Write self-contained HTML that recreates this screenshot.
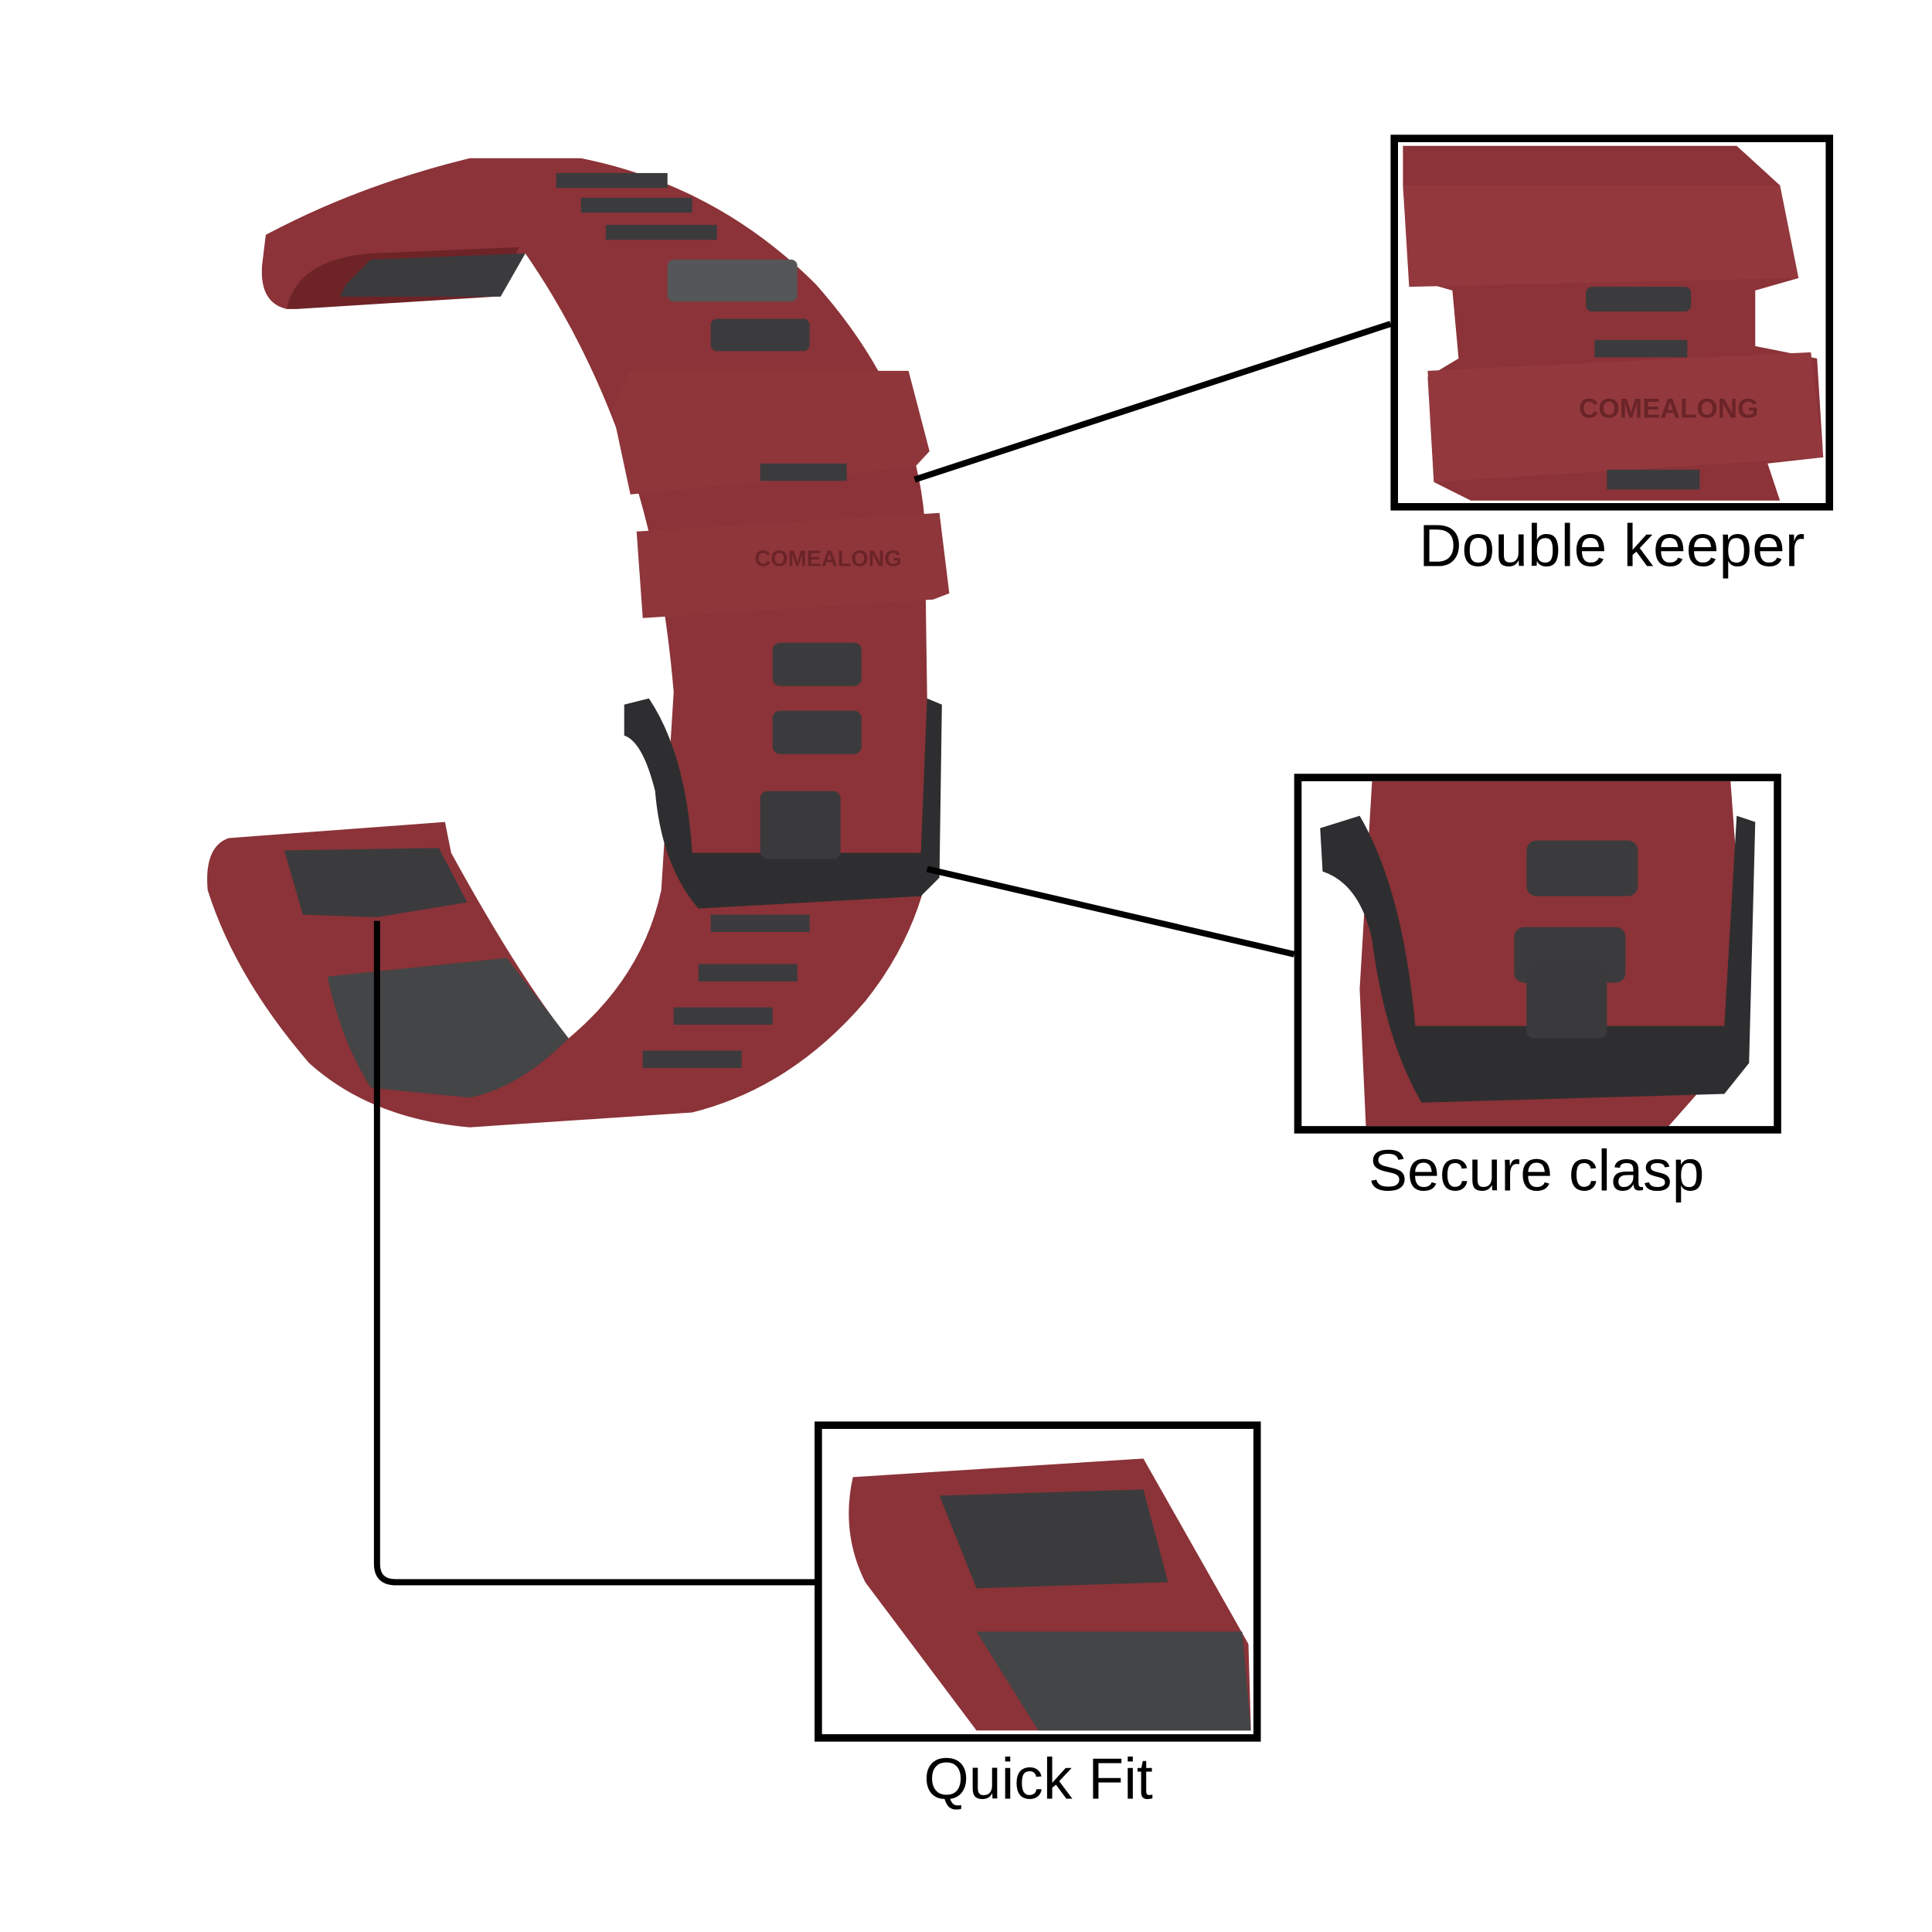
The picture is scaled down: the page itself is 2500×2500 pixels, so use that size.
<!DOCTYPE html>
<html><head><meta charset="utf-8"><style>
html,body{margin:0;padding:0;background:#fff;width:2500px;height:2500px;overflow:hidden}
svg{display:block}
text{font-family:"Liberation Sans",sans-serif;fill:#000}
</style></head><body>
<svg width="2500" height="2500" viewBox="0 0 1563 1563" xmlns="http://www.w3.org/2000/svg">
<!-- main band -->
<path d="M215,190 Q290,150 380,128 L470,128 Q580,150 660,230 Q740,320 748,420 L752,700 Q740,760 700,810 Q640,880 560,900 L380,912 Q300,905 250,860 Q190,790 168,720 Q165,685 185,678 L360,665 L365,690 Q420,790 460,840 Q520,790 535,720 L545,560 Q535,440 500,350 Q470,270 425,205 L290,225 L232,250 Q210,245 212,215 Z" fill="#8b3338"/>
<path d="M232,250 Q240,210 300,205 L420,200 L400,240 L240,250Z" fill="#6e2327"/>
<path d="M280,230 L300,210 L425,205 L405,240 L275,240Z" fill="#3b3b3d"/>
<path d="M230,688 L355,686 L378,730 L305,742 L245,740 Z" fill="#3b3b3d"/>
<path d="M265,790 L410,775 L460,840 Q420,880 380,888 L300,880 Q275,840 265,790Z" fill="#444546"/>
<rect x="450" y="140" width="90" height="12" fill="#3b3b3d"/>
<rect x="470" y="160" width="90" height="12" fill="#3b3b3d"/>
<rect x="490" y="182" width="90" height="12" fill="#3b3b3d"/>
<rect x="540" y="210" width="105" height="34" rx="5" fill="#555657"/>
<rect x="575" y="258" width="80" height="26" rx="5" fill="#3b3b3d"/>
<path d="M495,330 L510,300 L735,300 L752,365 L740,378 L510,400 Z" fill="#8f363b"/>
<rect x="615" y="375" width="70" height="14" fill="#3b3b3d"/>
<path d="M515,430 L760,415 L768,480 L755,485 L520,500 Z" fill="#8f363b"/>
<text x="670" y="458" font-size="18" text-anchor="middle" style="fill:#6a2428" font-weight="bold">COMEALONG</text>
<rect x="625" y="520" width="72" height="35" rx="6" fill="#3b3b3d"/>
<rect x="625" y="575" width="72" height="35" rx="6" fill="#3b3b3d"/>
<rect x="575" y="740" width="80" height="14" fill="#3b3b3d"/>
<rect x="565" y="780" width="80" height="14" fill="#3b3b3d"/>
<rect x="545" y="815" width="80" height="14" fill="#3b3b3d"/>
<rect x="520" y="850" width="80" height="14" fill="#3b3b3d"/>
<path d="M505,570 L525,565 Q555,610 560,690 L745,690 L750,565 L762,570 L760,710 L745,725 L565,735 Q535,700 530,640 Q520,600 505,595Z" fill="#2e2e30"/>
<rect x="615" y="640" width="65" height="55" rx="6" fill="#3a3a3c"/>
<line x1="740" y1="388" x2="1125" y2="262" stroke="#000" stroke-width="5"/>
<line x1="750" y1="703" x2="1047" y2="772" stroke="#000" stroke-width="5"/>
<path d="M305,745 L305,1265 Q305,1280 320,1280 L660,1280" fill="none" stroke="#000" stroke-width="5"/>
<rect x="1128" y="112" width="352" height="298" fill="#fff" stroke="#000" stroke-width="6"/>
<path d="M1135,118 L1405,118 L1440,150 L1455,225 L1420,235 L1420,280 L1470,290 L1475,370 L1430,375 L1440,405 L1190,405 L1160,390 L1155,305 L1180,290 L1175,235 L1140,225 L1135,150 Z" fill="#8b3338"/>
<path d="M1135,150 L1440,150 L1455,225 L1140,232 Z" fill="#93393e"/>
<path d="M1155,300 L1465,285 L1475,370 L1160,390 Z" fill="#93393e"/>
<rect x="1283" y="232" width="85" height="20" rx="5" fill="#3b3b3d"/>
<rect x="1290" y="275" width="75" height="14" fill="#3b3b3d"/>
<rect x="1300" y="380" width="75" height="16" fill="#3b3b3d"/>
<text x="1350" y="338" font-size="22" text-anchor="middle" style="fill:#6a2428" font-weight="bold">COMEALONG</text>
<text x="1304" y="458" font-size="48" text-anchor="middle">Double keeper</text>
<rect x="1050" y="629" width="388" height="285" fill="#fff" stroke="#000" stroke-width="6"/>
<path d="M1110,632 L1400,632 L1405,700 L1395,860 L1350,911 L1105,911 L1100,800 Z" fill="#8b3338"/>
<rect x="1235" y="680" width="90" height="45" rx="8" fill="#3b3b3d"/>
<rect x="1225" y="750" width="90" height="45" rx="8" fill="#3b3b3d"/>
<path d="M1068,670 L1100,660 Q1135,720 1145,830 L1395,830 L1405,660 L1420,665 L1415,860 L1395,885 L1150,892 Q1120,840 1110,760 Q1100,715 1070,705 Z" fill="#2e2e30"/>
<rect x="1235" y="780" width="65" height="60" rx="6" fill="#3a3a3c"/>
<text x="1243" y="963" font-size="47" text-anchor="middle">Secure clasp</text>
<rect x="662" y="1153" width="355" height="253" fill="#fff" stroke="#000" stroke-width="6"/>
<path d="M690,1195 L925,1180 L1010,1330 L1012,1400 L790,1400 L700,1280 Q680,1240 690,1195Z" fill="#8b3338"/>
<path d="M760,1210 L925,1205 L945,1280 L790,1285 Z" fill="#3b3b3d"/>
<path d="M790,1320 L1005,1320 L1012,1400 L840,1400 Z" fill="#444546"/>
<text x="840" y="1455" font-size="47" text-anchor="middle">Quick Fit</text>
</svg>
</body></html>
